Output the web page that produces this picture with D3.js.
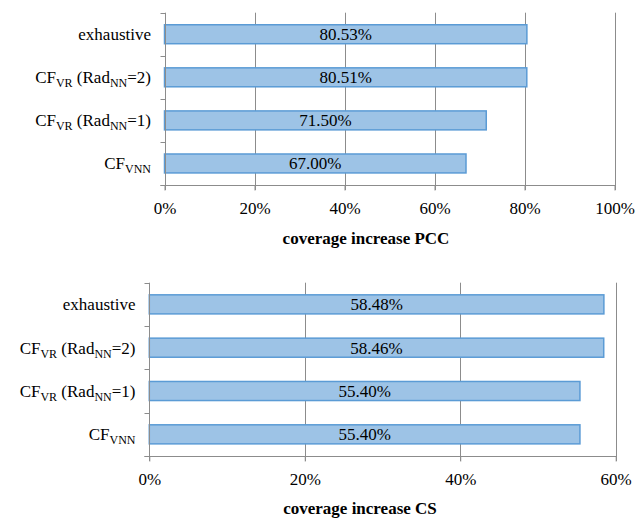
<!DOCTYPE html>
<html>
<head>
<meta charset="utf-8">
<script src="https://cdn.jsdelivr.net/npm/d3@7/dist/d3.min.js"></script>
</head>
<body>
<svg id="chart" width="636" height="520"></svg>
<script>
// Category labels, each split into [text, isSubscript] parts
const categories = [
  [["exhaustive", false]],
  [["CF", false], ["VR", true], [" (Rad", false], ["NN", true], ["=2)", false]],
  [["CF", false], ["VR", true], [" (Rad", false], ["NN", true], ["=1)", false]],
  [["CF", false], ["VNN", true]]
];
const categoryKeys = ["exhaustive", "CFVR2", "CFVR1", "CFVNN"];

// Coverage increase (%) per method
const pccValues = [80.53, 80.51, 71.50, 67.00];
const csValues = [58.48, 58.46, 55.40, 55.40];

// Axis tick values (%)
const pccTicks = [0, 20, 40, 60, 80, 100];
const csTicks = [0, 20, 40, 60];

const pccTitle = "coverage increase PCC";
const csTitle = "coverage increase CS";

d3.select("body").style("margin", "0px").style("background", "#fff");
const svg = d3.select("#chart").style("display", "block");
const FAMILY = "'Liberation Serif', Tinos, 'Times New Roman', 'DejaVu Serif', 'Noto Serif', serif";
const FONT = 17;
const SUB = 12;
const GRID = "#8c8c8c";
const BAR_FILL = "#9dc3e6";
const BAR_STROKE = "#5b9bd5";

function styleText(sel, size) {
  return sel.style("font-family", FAMILY)
    .style("font-size", size + "px")
    .attr("fill", "#000");
}

function drawPanel(cfg) {
  const g = svg.append("g");
  const x = d3.scaleLinear().domain([0, cfg.max]).range([cfg.left, cfg.right]);
  const y = d3.scaleBand().domain(categoryKeys).range([cfg.top, cfg.bottom])
    .paddingInner(0.56).paddingOuter(0.28);
  const step = y.step();

  // vertical gridlines (extend below the axis as tick marks)
  g.selectAll("line.grid").data(cfg.ticks.filter(d => d > 0)).join("line")
    .attr("x1", d => Math.round(x(d)) + 0.5).attr("x2", d => Math.round(x(d)) + 0.5)
    .attr("y1", cfg.top).attr("y2", cfg.bottom + 5)
    .attr("stroke", GRID).attr("stroke-width", 1);

  // bars
  g.selectAll("rect.bar").data(cfg.values).join("rect")
    .attr("x", x(0))
    .attr("y", (d, i) => y(categoryKeys[i]))
    .attr("width", d => x(d) - x(0))
    .attr("height", y.bandwidth())
    .attr("fill", BAR_FILL)
    .attr("stroke", BAR_STROKE)
    .attr("stroke-width", 1.5);

  // value labels centred in each bar
  g.selectAll("text.val").data(cfg.values).join("text")
    .attr("x", d => (x(0) + x(d)) / 2)
    .attr("y", (d, i) => y(categoryKeys[i]) + y.bandwidth() / 2)
    .attr("dy", "0.35em")
    .attr("text-anchor", "middle")
    .call(styleText, FONT)
    .text(d => d.toFixed(2) + "%");

  // category axis line and outward ticks at band boundaries
  const ax0 = Math.round(x(0)) + 0.5;
  g.append("line")
    .attr("x1", ax0).attr("x2", ax0)
    .attr("y1", cfg.top).attr("y2", cfg.bottom + 5)
    .attr("stroke", GRID);
  const bounds = d3.range(categoryKeys.length + 1).map(i => cfg.top + i * step);
  g.selectAll("line.ytick").data(bounds).join("line")
    .attr("x1", ax0 - 5).attr("x2", ax0)
    .attr("y1", d => Math.round(d) + 0.5).attr("y2", d => Math.round(d) + 0.5)
    .attr("stroke", GRID);

  // value axis
  const xAxis = d3.axisBottom(x).tickValues(cfg.ticks).tickSize(5).tickSizeOuter(0)
    .tickFormat(d => d + "%");
  const axg = g.append("g")
    .attr("transform", `translate(0,${Math.round(cfg.bottom) + 0.5})`)
    .call(xAxis)
    .attr("font-family", null).attr("font-size", null);
  axg.select(".domain").attr("d", `M${ax0 - 5},0H${Math.round(x(cfg.max)) + 0.5}`)
    .attr("stroke", GRID);
  axg.selectAll(".tick line").attr("stroke", GRID);
  axg.selectAll(".tick text")
    .call(styleText, FONT)
    .attr("y", 0).attr("dy", "1.66em");

  // category labels with subscripts
  g.selectAll("text.cat").data(categories).join("text")
    .attr("x", cfg.labelRight)
    .attr("y", (d, i) => y(categoryKeys[i]) + y.bandwidth() / 2)
    .attr("dy", "0.35em")
    .attr("text-anchor", "end")
    .call(styleText, FONT)
    .each(function (parts) {
      const t = d3.select(this);
      let lowered = false;
      parts.forEach(([txt, sub]) => {
        const ts = t.append("tspan").text(txt);
        if (sub) ts.style("font-size", SUB + "px");
        if (sub && !lowered) { ts.attr("dy", 4); lowered = true; }
        else if (!sub && lowered) { ts.attr("dy", -4); lowered = false; }
      });
    });

  // axis title
  g.append("text")
    .attr("x", cfg.titleX).attr("y", cfg.titleY)
    .attr("text-anchor", "middle")
    .call(styleText, FONT)
    .style("font-weight", "bold")
    .text(cfg.title);
}

drawPanel({
  values: pccValues, ticks: pccTicks, max: 100, title: pccTitle,
  left: 164.5, right: 614.5, top: 12.7, bottom: 185,
  labelRight: 151, titleX: 366, titleY: 244
});

drawPanel({
  values: csValues, ticks: csTicks, max: 60, title: csTitle,
  left: 149.3, right: 615.7, top: 282.7, bottom: 456,
  labelRight: 135.5, titleX: 360, titleY: 514
});

// once the serif face is confirmed loaded, re-apply it so text is laid out with it
if (document.fonts && document.fonts.load) {
  document.fonts.load(FONT + "px 'Liberation Serif'").then(() => {
    svg.selectAll("text").style("font-family", FAMILY);
  });
}
</script>
</body>
</html>
